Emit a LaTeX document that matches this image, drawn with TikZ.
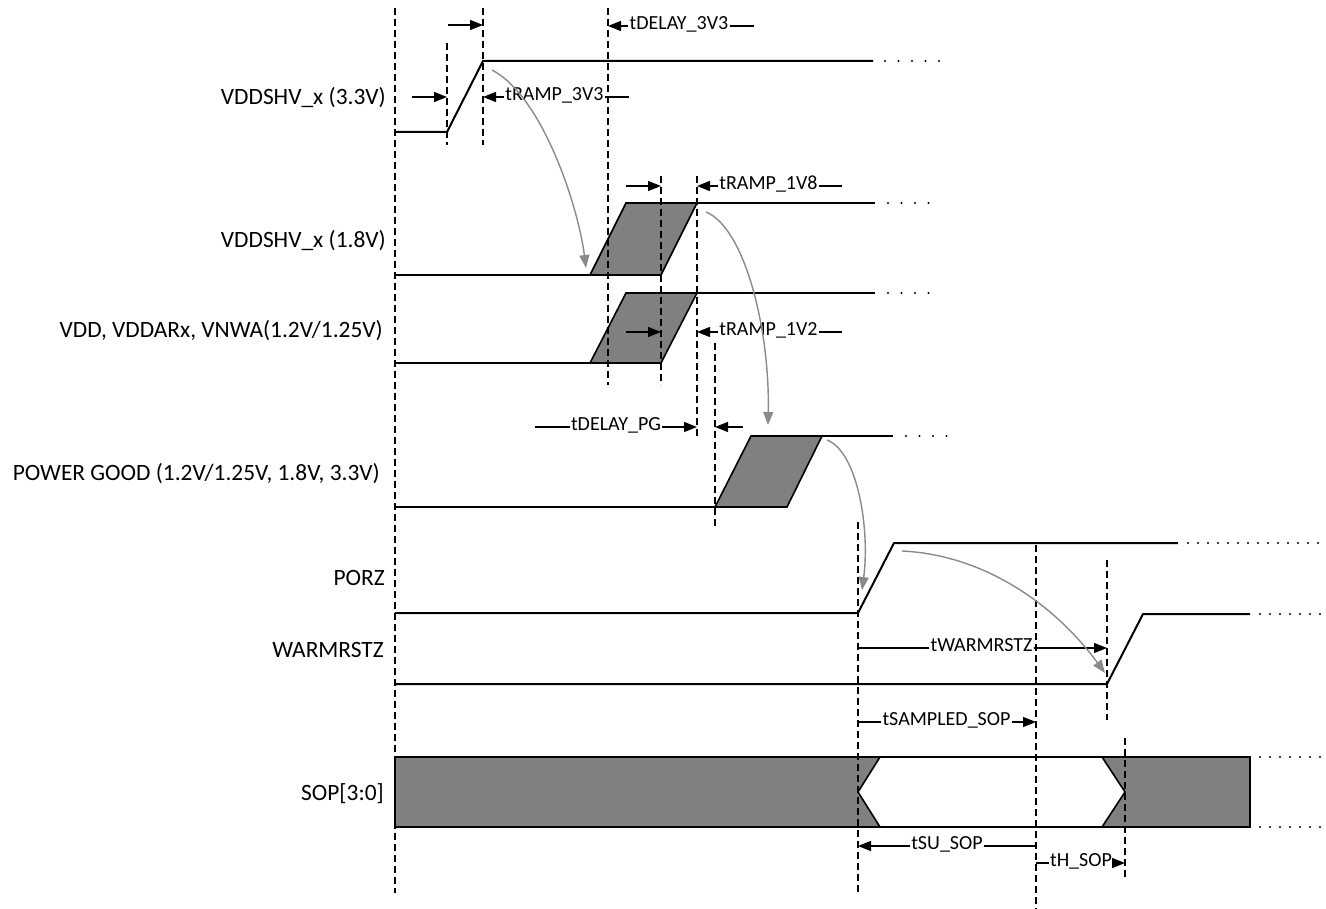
\documentclass[tikz,border=0pt]{standalone}
\usepackage{fontspec}
\setmainfont{Carlito}
\usetikzlibrary{arrows.meta}
\definecolor{WaveGray}{HTML}{808080}
\definecolor{FlowGray}{HTML}{8A8A8A}

\begin{document}
\begin{tikzpicture}[
    x=1pt, y=-1pt,
    sig/.style={draw=black, line width=2pt, line join=miter},
    busfill/.style={fill=WaveGray, draw=black, line width=1.6pt, line join=miter},
    marker/.style={draw=black, line width=1.1pt, dash pattern=on 7pt off 4pt},
    trail/.style={draw=black, line width=2.2pt, line cap=round, dash pattern=on 0pt off 13.5pt},
    finetrail/.style={trail, dash pattern=on 0pt off 10pt},
    dimline/.style={draw=black, line width=1.4pt},
    dimarrow/.style={dimline, -{Triangle[length=13pt, width=10pt]}},
    flow/.style={draw=FlowGray, line width=1.4pt, -{Triangle[length=13pt, width=10pt]}},
    siglabel/.style={anchor=base east, font=\fontsize{23.4}{28}\selectfont, inner sep=0pt},
    dimlabel/.style={font=\fontsize{20}{24}\selectfont, inner xsep=1pt, inner ysep=0pt,
      text height=0.64em, text depth=0pt}
  ]
  \useasboundingbox (0,0) rectangle (1326,909);

  % Time markers
  \coordinate (tA) at (395,0);
  \coordinate (tB) at (447,0);
  \coordinate (tC) at (483,0);
  \coordinate (tD) at (608,0);
  \coordinate (tE) at (661,0);
  \coordinate (tF) at (697,0);
  \coordinate (tG) at (715,0);
  \coordinate (tH) at (858,0);
  \coordinate (tI) at (1036,0);
  \coordinate (tJ) at (1107,0);
  \coordinate (tK) at (1125,0);

  % Signal names
  \node[siglabel] (l3v3) at (386,105) {VDDSHV\_x (3.3V)};
  \node[siglabel] (l1v8) at (386,248) {VDDSHV\_x (1.8V)};
  \node[siglabel] (lvdd) at (383,338) {VDD, VDDARx, VNWA(1.2V/1.25V)};
  \node[siglabel] (lpg) at (380,480) {POWER GOOD (1.2V/1.25V, 1.8V, 3.3V)};
  \node[siglabel] (lporz) at (385,585) {PORZ};
  \node[siglabel] (lwarm) at (384,657) {WARMRSTZ};
  \node[siglabel] (lsop) at (384,800) {SOP[3:0]};

  % Waveforms
  \draw[sig] (395,132) -- (447,132) -- (483,61) -- (873,61);
  \draw[trail] (885,61) -- (942,61);

  \path[busfill] (590,275) -- (626,203) -- (697,203) -- (661,275) -- cycle;
  \draw[sig] (395,275) -- (590,275);
  \draw[sig] (697,203) -- (875,203);
  \draw[trail] (888,203) -- (942,203);

  \path[busfill] (590,363) -- (626,293) -- (697,293) -- (661,363) -- cycle;
  \draw[sig] (395,363) -- (590,363);
  \draw[sig] (697,293) -- (875,293);
  \draw[trail] (888,293) -- (942,293);

  \path[busfill] (715,507) -- (751,436) -- (822,436) -- (787,507) -- cycle;
  \draw[sig] (395,507) -- (715,507);
  \draw[sig] (822,436) -- (893,436);
  \draw[trail] (906,436) -- (960,436);

  \draw[sig] (395,613) -- (858,613) -- (894,543) -- (1178,543);
  \draw[finetrail] (1188,543) -- (1324,543);

  \draw[sig] (395,684) -- (1107,684) -- (1143,614) -- (1250,614);
  \draw[finetrail] (1260,614) -- (1324,614);

  \path[busfill] (395,757) rectangle (1250,827);
  \path[fill=white, draw=black, line width=1.6pt]
    (858,792) -- (880,757) -- (1102,757) -- (1125,792) -- (1102,827) -- (880,827) -- cycle;
  \draw[finetrail] (1260,757) -- (1324,757);
  \draw[finetrail] (1260,827) -- (1324,827);

  % Dashed markers
  \foreach \t/\top/\bot in {tA/8/893, tB/43/145, tC/8/145, tD/8/385, tE/176/385,
      tF/176/437, tG/343/528, tH/522/893, tI/545/909, tJ/560/720, tK/738/877}
    \draw[marker] (\t |- 0,\top) -- (\t |- 0,\bot);

  % Timing parameters
  \draw[dimarrow] (448,25) -- (tC |- 0,25);
  \node[dimlabel] (dd3v3) at (679,26) {tDELAY\_3V3};
  \draw[dimarrow] (dd3v3.west) -- (dd3v3.west -| tD);
  \draw[dimline] (dd3v3.east) -- ++(24,0);

  \draw[dimarrow] (412,97) -- (tB |- 0,97);
  \node[dimlabel] (tr3v3) at (554.5,97) {tRAMP\_3V3};
  \draw[dimarrow] (tr3v3.west) -- (tr3v3.west -| tC);
  \draw[dimline] (tr3v3.east) -- ++(24,0);

  \draw[dimarrow] (626,186) -- (tE |- 0,186);
  \node[dimlabel] (tr1v8) at (768.5,186) {tRAMP\_1V8};
  \draw[dimarrow] (tr1v8.west) -- (tr1v8.west -| tF);
  \draw[dimline] (tr1v8.east) -- ++(23,0);

  \draw[dimarrow] (626,332) -- (tE |- 0,332);
  \node[dimlabel] (tr1v2) at (768.5,332) {tRAMP\_1V2};
  \draw[dimarrow] (tr1v2.west) -- (tr1v2.west -| tF);
  \draw[dimline] (tr1v2.east) -- ++(23,0);

  \node[dimlabel] (tdpg) at (616,427) {tDELAY\_PG};
  \draw[dimline] (tdpg.west) -- ++(-35,0);
  \draw[dimarrow] (tdpg.east) -- (tdpg.east -| tF);
  \draw[dimarrow] (743,427) -- (tG |- 0,427);

  \node[dimlabel] (twarm) at (981.5,648) {tWARMRSTZ};
  \draw[dimline] (twarm.west) -- (twarm.west -| tH);
  \draw[dimarrow] (twarm.east) -- (twarm.east -| tJ);

  \node[dimlabel] (tsamp) at (946.5,722) {tSAMPLED\_SOP};
  \draw[dimline] (tsamp.west) -- (tsamp.west -| tH);
  \draw[dimarrow] (tsamp.east) -- (tsamp.east -| tI);

  \node[dimlabel] (tsu) at (947,846) {tSU\_SOP};
  \draw[dimarrow] (tsu.west) -- (tsu.west -| tH);
  \draw[dimline] (tsu.east) -- (tsu.east -| tI);

  \node[dimlabel] (thold) at (1081,863) {tH\_SOP};
  \draw[dimline] (thold.west) -- (thold.west -| tI);
  \draw[dimarrow] (thold.east) -- (thold.east -| tK);

  % Sequence arrows
  \draw[flow] (492,70) .. controls (542,96) and (578,205) .. (586,268);
  \draw[flow] (706,212) .. controls (745,228) and (770,330) .. (768,425);
  \draw[flow] (827,440) .. controls (858,452) and (870,530) .. (862,590);
  \draw[flow] (902,551) .. controls (985,555) and (1055,605) .. (1105,673);
\end{tikzpicture}
\end{document}
